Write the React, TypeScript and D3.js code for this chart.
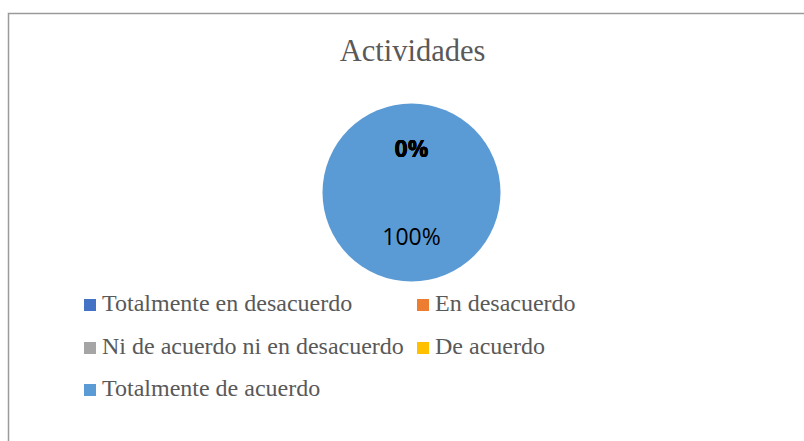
import * as d3 from "d3";
import { useRef, useEffect } from "react";

const categories = [
  "Totalmente en desacuerdo",
  "En desacuerdo",
  "Ni de acuerdo ni en desacuerdo",
  "De acuerdo",
  "Totalmente de acuerdo",
];
const values = [0, 0, 0, 0, 100];
const colors = ["#4472C4", "#ED7D31", "#A5A5A5", "#FFC000", "#5B9BD5"];
const title = "Actividades";

export default function App() {
  const svgRef = useRef<SVGSVGElement>(null);

  useEffect(() => {
    const WIDTH = 804;
    const HEIGHT = 441;
    const CX = 411.5;
    const CY = 192.5;
    const RADIUS = 89;

    const svg = d3.select(svgRef.current);
    svg.selectAll("*").remove();
    svg.attr("width", WIDTH).attr("height", HEIGHT);

    // chart frame, runs off the right and bottom edges
    svg.append("rect")
      .attr("x", 8.5)
      .attr("y", 13.5)
      .attr("width", WIDTH)
      .attr("height", HEIGHT)
      .attr("fill", "white")
      .attr("stroke", "#9a9a9a")
      .attr("stroke-width", 1.5);

    svg.append("text")
      .attr("x", CX + 1)
      .attr("y", 61)
      .attr("text-anchor", "middle")
      .attr("font-family", "'Liberation Serif', serif")
      .attr("font-size", 30.5)
      .attr("fill", "#595959")
      .text(title);

    const total = d3.sum(values);
    const data = categories.map((c, i) => ({ category: c, value: values[i], color: colors[i] }));
    const pieData = d3.pie<any>().sort(null).value((d) => d.value)(data);
    const arcGenerator = d3.arc<any>().innerRadius(0).outerRadius(RADIUS);
    const labelArc = d3.arc<any>().innerRadius(88).outerRadius(0);

    const g = svg.append("g").attr("transform", `translate(${CX}, ${CY})`);

    g.selectAll("path")
      .data(pieData)
      .join("path")
      .attr("d", arcGenerator)
      .attr("fill", (d) => d.data.color);

    g.selectAll("text")
      .data(pieData)
      .join("text")
      .attr("transform", (d) => {
        const [x, y] = labelArc.centroid(d);
        return `translate(${x}, ${y})`;
      })
      .attr("text-anchor", "middle")
      .attr("dy", "0.36em")
      .attr("font-family", "'Open Sans', sans-serif")
      .attr("font-size", 23)
      .attr("font-weight", (d) => (d.data.value === 0 ? "bold" : "normal"))
      .attr("fill", "#000")
      .text((d) => `${Math.round((d.data.value / total) * 100)}%`);

    // legend, two columns
    const colX = [84, 417];
    const rowY = [311, 354, 396];
    const legend = svg.append("g");
    const items = legend.selectAll("g")
      .data(data)
      .join("g")
      .attr("transform", (d, i) => `translate(${colX[i % 2]}, ${rowY[Math.floor(i / 2)]})`);

    items.append("rect")
      .attr("x", 0)
      .attr("y", -12)
      .attr("width", 12)
      .attr("height", 12)
      .attr("fill", (d) => d.color);

    items.append("text")
      .attr("x", 18)
      .attr("y", 0)
      .attr("font-family", "'Liberation Serif', serif")
      .attr("font-size", 24)
      .attr("fill", "#595959")
      .text((d) => d.category);
  }, []);

  return (
    <>
      <svg ref={svgRef} style={{ position: "absolute", left: 0, top: 0 }} />
    </>
  );
}
